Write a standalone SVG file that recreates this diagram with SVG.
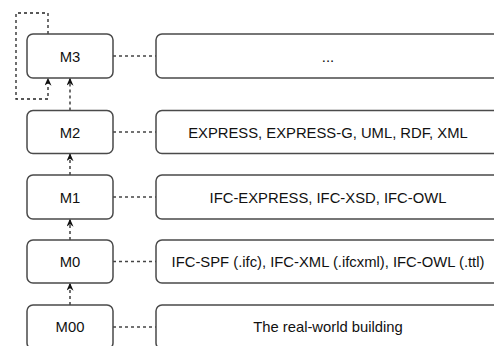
<svg xmlns="http://www.w3.org/2000/svg" width="494" height="346" viewBox="0 0 494 346">
  <style>
    .box { fill: #ffffff; stroke: #4a4a4a; stroke-width: 1.5; }
    .lbl { font-family: "Liberation Sans", Arial, Helvetica, sans-serif; font-size: 14.8px; fill: #111111; text-anchor: middle; }
    .link { fill: none; stroke: #444444; stroke-width: 1.3; stroke-dasharray: 3 3; }
    .arrow { fill: none; stroke: #222222; stroke-width: 1.3; stroke-dasharray: 3 3; marker-end: url(#head); }
  </style>
  <defs>
    <marker id="head" viewBox="0 0 10 10" refX="9" refY="5" markerWidth="8" markerHeight="7" markerUnits="userSpaceOnUse" orient="auto" preserveAspectRatio="none">
      <path d="M0,0 L10,5 L0,10 L3,5 Z" fill="#111111"/>
    </marker>
  </defs>
  <rect width="494" height="346" fill="#ffffff"/>

  <!-- connectors -->
  <g id="connectors">
    <!-- level to description links -->
    <line class="link" x1="113" y1="56" x2="156" y2="56"/>
    <line class="link" x1="113" y1="132" x2="156" y2="132"/>
    <line class="link" x1="113" y1="197" x2="156" y2="197"/>
    <line class="link" x1="113" y1="261.5" x2="156" y2="261.5"/>
    <line class="link" x1="113" y1="327" x2="156" y2="327"/>
    <!-- instance-of arrows -->
    <path class="arrow" d="M48,34 L48,13 L16,13 L16,99 L48,99 L48,78.5"/>
    <line class="arrow" x1="70" y1="110.5" x2="70" y2="78.5"/>
    <line class="arrow" x1="70" y1="175" x2="70" y2="154"/>
    <line class="arrow" x1="70" y1="240" x2="70" y2="219.5"/>
    <line class="arrow" x1="70" y1="305" x2="70" y2="283.5"/>
  </g>

  <g id="m3">
    <rect class="box" x="27" y="34" width="86" height="44" rx="6"/>
    <text class="lbl" x="70" y="61.5">M3</text>
  </g>
  <g id="m3-desc">
    <rect class="box" x="156" y="34" width="344" height="44" rx="6"/>
    <text class="lbl" x="328" y="61.5">...</text>
  </g>

  <g id="m2">
    <rect class="box" x="27" y="110.5" width="86" height="43" rx="6"/>
    <text class="lbl" x="70" y="137.5">M2</text>
  </g>
  <g id="m2-desc">
    <rect class="box" x="156" y="110.5" width="344" height="43" rx="6"/>
    <text class="lbl" x="328" y="137.5">EXPRESS, EXPRESS-G, UML, RDF, XML</text>
  </g>

  <g id="m1">
    <rect class="box" x="27" y="175" width="86" height="44" rx="6"/>
    <text class="lbl" x="70" y="202.5">M1</text>
  </g>
  <g id="m1-desc">
    <rect class="box" x="156" y="175" width="344" height="44" rx="6"/>
    <text class="lbl" x="328" y="202.5">IFC-EXPRESS, IFC-XSD, IFC-OWL</text>
  </g>

  <g id="m0">
    <rect class="box" x="27" y="240" width="86" height="43" rx="6"/>
    <text class="lbl" x="70" y="267">M0</text>
  </g>
  <g id="m0-desc">
    <rect class="box" x="156" y="240" width="344" height="43" rx="6"/>
    <text class="lbl" x="328" y="267">IFC-SPF (.ifc), IFC-XML (.ifcxml), IFC-OWL (.ttl)</text>
  </g>

  <g id="m00">
    <rect class="box" x="27" y="305" width="86" height="44" rx="6"/>
    <text class="lbl" x="70" y="332">M00</text>
  </g>
  <g id="m00-desc">
    <rect class="box" x="156" y="305" width="344" height="44" rx="6"/>
    <text class="lbl" x="328" y="332">The real-world building</text>
  </g>
</svg>
